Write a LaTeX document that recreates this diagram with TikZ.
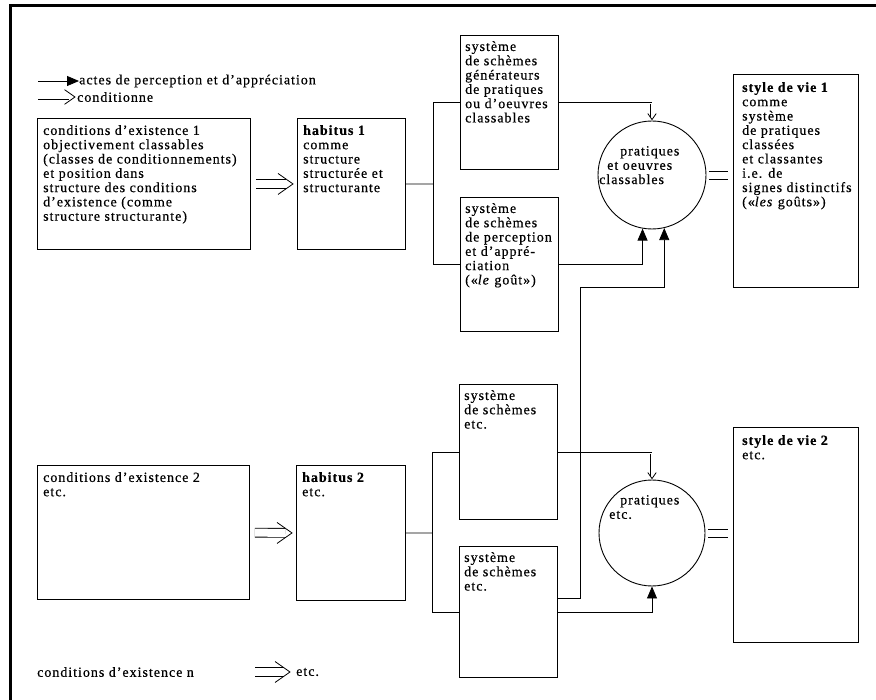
\documentclass[tikz,border=0pt]{standalone}
\usepackage{fontspec}
\setmainfont[LetterSpace=7, FakeBold=0.5]{Liberation Serif}
\usetikzlibrary{arrows.meta, positioning, calc}

\tikzset{
  frame/.style={draw, line width=0.9pt, anchor=north west, inner sep=0pt},
  txt/.style={anchor=north west, align=left, inner sep=0pt, font=\fontsize{14}{14.3}\selectfont},
  circ/.style={draw, circle, line width=0.9pt, minimum size=108pt, inner sep=0pt},
  link/.style={line width=0.8pt},
  act/.style={link, -{Triangle[width=10pt,length=12pt]}},
  dbl/.style={double, double distance=8pt, line width=0.8pt},
  eqs/.style={line width=0.9pt, shorten <=3pt, shorten >=5pt},
  chev/.pic={\draw[line width=0.8pt, line join=miter] (-15,-10.5) -- (0,0) -- (-15,10.5);},
}

\begin{document}
\begin{tikzpicture}[x=1pt, y=-1pt]
  \useasboundingbox (0,0) rectangle (876,700);
  \draw[line width=3pt] (10,700) -- (10,6) -- (876,6);

  % legend
  \node[txt, anchor=west] (legact) at (79,81) {actes de perception et d'appréciation};
  \node[txt, anchor=west] (legcond) at (77,97) {conditionne};
  \coordinate (lega) at (38,81);
  \coordinate (legc) at (38,97);
  \draw[act] (lega) -- (legact.west);
  \draw[dbl, double distance=5pt, shorten >=8pt] (legc) -- (legcond.west);
  \pic[scale=0.7] at ([xshift=-2pt]legcond.west) {chev};

  % first row
  \node[frame, minimum width=213pt, minimum height=131pt] (c1) at (37,118) {};
  \node[frame, minimum width=108pt, minimum height=131pt] (h1) at (297,118) {};
  \node[frame, minimum width=98pt, minimum height=134pt] (s1a) at (460,35) {};
  \node[frame, minimum width=98pt, minimum height=134pt] (s1b) at (460,197) {};
  \node[circ] (p1) at (652,175) {};
  \node[frame, minimum width=125pt, minimum height=213pt] (l1) at (733,74) {};

  \node[txt] (c1t) at ([shift={(6,7)}]c1.north west) {conditions d'existence 1\\objectivement classables\\(classes de conditionnements)\\et position dans\\structure des conditions\\d'existence (comme\\structure structurante)};
  \node[txt] (h1t) at ([shift={(6,7)}]h1.north west) {\textbf{habitus 1}\\comme\\structure\\structurée et\\structurante};
  \node[txt] (s1at) at ([shift={(5,6)}]s1a.north west) {système\\de schèmes\\générateurs\\de pratiques\\ou d'oeuvres\\classables};
  \node[txt] (s1bt) at ([shift={(5,6)}]s1b.north west) {système\\de schèmes\\de perception\\et d'appré-\\ciation\\(«\textit{le} goût»)};
  \node[txt] (p1t) at (599,146) {\hspace*{21pt}pratiques\\\hspace*{8pt}et oeuvres\\classables};
  \node[txt] (l1t) at ([shift={(9,8)}]l1.north west) {\textbf{style de vie 1}\\comme\\système\\de pratiques\\classées\\et classantes\\i.e. de\\signes distinctifs\\(«\textit{les} goûts»)};

  \draw[dbl, shorten <=5pt, shorten >=11pt] (c1) -- (h1);
  \pic at ([xshift=-4pt]h1.west) {chev};
  \coordinate (br1) at ($(h1.east)!0.5!(s1a.west |- h1.east)$);
  \draw[link] (h1) -- (br1);
  \draw[link] (s1a.west) -| (br1) |- (s1b.west);
  \draw[link] (s1a.east) -- (s1a.east -| p1.north) coordinate (t1);
  \draw[dbl, double distance=3pt, line width=0.7pt, shorten <=2pt, shorten >=4pt] (t1) -- (p1.north);
  \pic[rotate=-90, scale=0.4] at ([yshift=1pt]p1.north) {chev};
  \draw[act] (s1b.east) -| (p1.-100);
  \draw[eqs] ([yshift=4pt]p1.east) -- ([yshift=4pt]p1.east -| l1.west);
  \draw[eqs] ([yshift=-4pt]p1.east) -- ([yshift=-4pt]p1.east -| l1.west);

  % second row
  \node[frame, minimum width=212pt, minimum height=134pt] (c2) at (37,465) {};
  \node[frame, minimum width=109pt, minimum height=135pt] (h2) at (296,465) {};
  \node[frame, minimum width=98pt, minimum height=135pt] (s2a) at (459,384) {};
  \node[frame, minimum width=98pt, minimum height=131pt] (s2b) at (459,546) {};
  \node[circ, minimum size=106pt] (p2) at (652,533) {};
  \node[frame, minimum width=125pt, minimum height=215pt] (l2) at (733,427) {};

  \node[txt] (c2t) at ([shift={(6,7)}]c2.north west) {conditions d'existence 2\\etc.};
  \node[txt] (h2t) at ([shift={(6,7)}]h2.north west) {\textbf{habitus 2}\\etc.};
  \node[txt] (s2at) at ([shift={(5,6)}]s2a.north west) {système\\de schèmes\\etc.};
  \node[txt] (s2bt) at ([shift={(5,6)}]s2b.north west) {système\\de schèmes\\etc.};
  \node[txt] (p2t) at (609,495) {\hspace*{11pt}pratiques\\etc.};
  \node[txt] (l2t) at ([shift={(9,8)}]l2.north west) {\textbf{style de vie 2}\\etc.};

  \draw[dbl, shorten <=5pt, shorten >=11pt] (c2) -- (h2);
  \pic at ([xshift=-4pt]h2.west) {chev};
  \coordinate (br2) at ($(h2.east)!0.5!(s2a.west |- h2.east)$);
  \draw[link] (h2) -- (br2);
  \draw[link] (s2a.west) -| (br2) |- (s2b.west);
  \draw[link] (s2a.east) -- (s2a.east -| p2.north) coordinate (t2);
  \draw[dbl, double distance=3pt, line width=0.7pt, shorten <=2pt, shorten >=4pt] (t2) -- (p2.north);
  \pic[rotate=-90, scale=0.4] at ([yshift=1pt]p2.north) {chev};
  \draw[act] (s2b.east) -| (p2.south);
  \draw[eqs] ([yshift=4pt]p2.east) -- ([yshift=4pt]p2.east -| l2.west);
  \draw[eqs] ([yshift=-4pt]p2.east) -- ([yshift=-4pt]p2.east -| l2.west);

  % feedback from the lower schemes
  \coordinate (j1) at (580,287);
  \draw[act] ([yshift=14pt]s2b.east) -| (j1) -| (p1.-77);

  % last line
  \node[txt, anchor=west] (cn) at (37,672) {conditions d'existence n};
  \node[txt, anchor=west] (cnetc) at (296,672) {etc.};
  \coordinate (cnarr) at (255,672);
  \draw[dbl, shorten >=13pt] (cnarr) -- (cnetc);
  \pic at ([xshift=-6pt]cnetc.west) {chev};
\end{tikzpicture}
\end{document}
